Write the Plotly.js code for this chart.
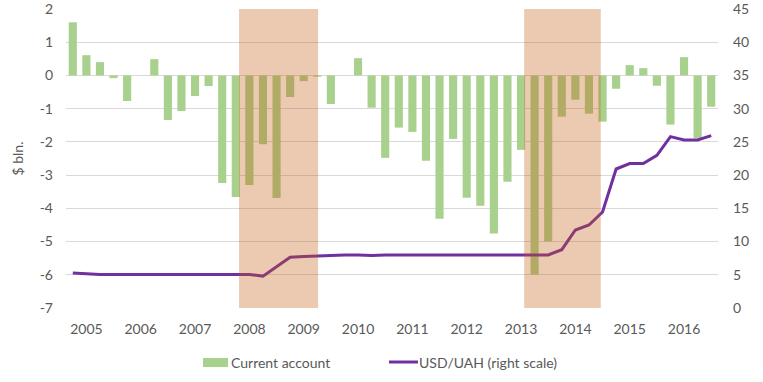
<!DOCTYPE html>
<html>
<head>
<meta charset="utf-8">
<script src="https://cdn.plot.ly/plotly-3.0.1.min.js"></script>
<style>html,body{margin:0;padding:0;background:#fff;}#chart{width:763px;height:382px;}</style>
</head>
<body>
<div id="chart"></div>
<script>
// ---- data ----
const years = [2005,2006,2007,2008,2009,2010,2011,2012,2013,2014,2015,2016];
const quarterNames = ["Q1","Q2","Q3","Q4"];
const currentAccount = [
  1.60, 0.61, 0.40, -0.08,
  -0.77, 0.00, 0.49, -1.34,
  -1.07, -0.62, -0.32, -3.24,
  -3.66, -3.30, -2.07, -3.69,
  -0.65, -0.17, -0.04, -0.86,
  0.00, 0.52, -0.97, -2.48,
  -1.57, -1.70, -2.57, -4.31,
  -1.91, -3.68, -3.92, -4.76,
  -3.20, -2.24, -6.00, -5.00,
  -1.24, -0.73, -1.15, -1.39,
  -0.40, 0.31, 0.22, -0.31,
  -1.48, 0.55, -1.89, -0.94
];
const usdUah = [
  5.25, 5.10, 5.05, 5.05,
  5.05, 5.05, 5.05, 5.05,
  5.05, 5.05, 5.05, 5.05,
  5.05, 5.05, 4.80, 6.20,
  7.65, 7.75, 7.85, 7.98,
  7.97, 7.97, 7.90, 7.96,
  7.97, 7.97, 7.98, 7.99,
  7.99, 7.99, 7.99, 7.99,
  7.99, 7.99, 7.99, 7.99,
  8.78, 11.74, 12.49, 14.45,
  20.92, 21.73, 21.73, 22.98,
  25.79, 25.29, 25.29, 25.94
];
const crisisStart = [12.24, 33.23];   // category index positions
const crisisEnd   = [18.06, 38.87];
const leftTicks = [-7,-6,-5,-4,-3,-2,-1,0,1,2];
const rightTicks = [0,5,10,15,20,25,30,35,40,45];

// ---- build ----
const quarters = [];
years.forEach(y => quarterNames.forEach(q => quarters.push(y + q)));
const yearTickVals = years.map(y => y + "Q2");
const yearTickText = years.map(String);

const FONT = "Lato, Carlito, Calibri, 'Open Sans', sans-serif";
const TXT = "#595959";
const FS = 14;

const traces = [
  {
    type: "bar", name: "Current account",
    x: quarters, y: currentAccount,
    marker: {color: "#A9D18E"},
    yaxis: "y", showlegend: false
  },
  {
    type: "scatter", mode: "lines", name: "USD/UAH (right scale)",
    x: quarters, y: usdUah,
    line: {color: "#7030A0", width: 3},
    yaxis: "y2", showlegend: false
  }
];

const shapes = crisisStart.map((s, i) => ({
  type: "rect", xref: "x", yref: "paper",
  x0: s, x1: crisisEnd[i], y0: 0, y1: 1,
  fillcolor: "rgba(197,90,17,0.32)", line: {width: 0}, layer: "above"
}));

// manual legend
const L = 66, W = 652, T = 9, H = 299;
const px = v => (v - L) / W;
const py = v => (T + H - v) / H;
shapes.push({type: "rect", xref: "paper", yref: "paper",
  x0: px(203), x1: px(228), y0: py(367), y1: py(358),
  fillcolor: "#A9D18E", line: {width: 0}});
shapes.push({type: "line", xref: "paper", yref: "paper",
  x0: px(389), x1: px(418), y0: py(362), y1: py(362),
  line: {color: "#7030A0", width: 3}});

const annotations = [
  {xref: "paper", yref: "paper", x: px(229), y: py(362.5), xanchor: "left", yanchor: "middle",
   text: traces[0].name, showarrow: false, font: {family: FONT, size: FS, color: TXT}},
  {xref: "paper", yref: "paper", x: px(417), y: py(362.5), xanchor: "left", yanchor: "middle",
   text: traces[1].name, showarrow: false, font: {family: FONT, size: FS, color: TXT}}
];

const layout = {
  width: 763, height: 382,
  margin: {l: 66, r: 45, t: 9, b: 74, pad: 0},
  paper_bgcolor: "#fff", plot_bgcolor: "#fff",
  font: {family: FONT, size: FS, color: TXT},
  bargap: 0.4,
  showlegend: false,
  xaxis: {
    type: "category", categoryorder: "array", categoryarray: quarters,
    range: [-0.5, 47.5],
    tickmode: "array", tickvals: yearTickVals, ticktext: yearTickText,
    showgrid: false, zeroline: false, showline: false, ticks: "",
    ticklabelstandoff: 11,
    tickfont: {family: FONT, size: FS, color: TXT}
  },
  yaxis: {
    range: [-7, 2], tickmode: "array", tickvals: leftTicks, ticktext: leftTicks.map(String),
    showgrid: true, gridcolor: "#D9D9D9", gridwidth: 1,
    zeroline: false, showline: false, ticks: "",
    ticklabelstandoff: 12, ticklabeloverflow: "allow",
    tickfont: {family: FONT, size: FS, color: TXT},
    title: {text: "$ bln.", font: {family: FONT, size: FS, color: TXT}, standoff: 12}
  },
  yaxis2: {
    range: [0, 45], overlaying: "y", side: "right",
    tickmode: "array", tickvals: rightTicks, ticktext: rightTicks.map(String),
    showgrid: false, zeroline: false, showline: false, ticks: "",
    ticklabelstandoff: 14, ticklabeloverflow: "allow",
    tickfont: {family: FONT, size: FS, color: TXT}
  },
  shapes: shapes,
  annotations: annotations
};

Plotly.newPlot("chart", traces, layout, {displayModeBar: false, staticPlot: true});
</script>
</body>
</html>
